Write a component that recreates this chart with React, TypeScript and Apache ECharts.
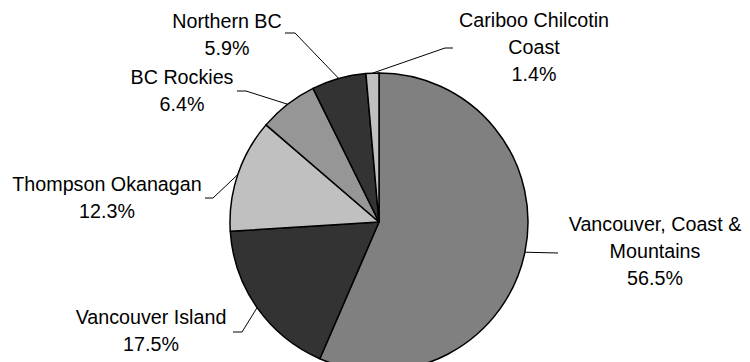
import React, { useEffect, useRef } from "react";
import * as echarts from "echarts";

const categories = [
  "Vancouver, Coast & Mountains",
  "Vancouver Island",
  "Thompson Okanagan",
  "BC Rockies",
  "Northern BC",
  "Cariboo Chilcotin Coast",
];
const labelLines = [
  ["Vancouver, Coast &", "Mountains"],
  ["Vancouver Island"],
  ["Thompson Okanagan"],
  ["BC Rockies"],
  ["Northern BC"],
  ["Cariboo Chilcotin", "Coast"],
];
const shares = [56.5, 17.5, 12.3, 6.4, 5.9, 1.4];
const sliceColors = ["#808080", "#333333", "#C0C0C0", "#969696", "#333333", "#C0C0C0"];

// label block centre (x,y), leader elbow (ex,ey) and leader end (tx,ty)
const labelLayoutHints = [
  { x: 655, y: 251, ex: 558, ey: 253, tx: 558, ty: 253 },
  { x: 151, y: 330, ex: 242, ey: 332, tx: 233, ty: 332 },
  { x: 107, y: 197, ex: 213, ey: 198, tx: 205, ty: 198 },
  { x: 182, y: 90, ex: 246, ey: 91, tx: 237, ty: 91 },
  { x: 227, y: 34, ex: 295, ey: 33, tx: 285, ty: 33 },
  { x: 534, y: 47, ex: 445, ey: 48, tx: 453, ty: 48 },
];

export default function App() {
  const ref = useRef<HTMLDivElement>(null);
  useEffect(() => {
    if (!ref.current) return;
    const chart = echarts.init(ref.current, null, { renderer: "svg" });
    chart.setOption({
      animation: false,
      backgroundColor: "#ffffff",
      series: [
        {
          type: "pie",
          center: [379, 222],
          radius: [0, 149],
          startAngle: 90,
          clockwise: true,
          avoidLabelOverlap: false,
          data: categories.map((name, i) => ({
            name,
            value: shares[i],
            itemStyle: { color: sliceColors[i] },
          })),
          itemStyle: { borderColor: "#000000", borderWidth: 1.5 },
          label: {
            show: true,
            position: "outside",
            formatter: (p: any) =>
              labelLines[p.dataIndex].join("\n") + "\n" + shares[p.dataIndex].toFixed(1) + "%",
            fontFamily: "'Liberation Sans', Arial, sans-serif",
            fontSize: 19.7,
            lineHeight: 27,
            color: "#000000",
            align: "center",
          },
          labelLine: {
            show: true,
            length: 10,
            length2: 10,
            lineStyle: { color: "#000000", width: 1 },
          },
          labelLayout: (params: any) => {
            const h = labelLayoutHints[params.dataIndex];
            const p0 = params.labelLinePoints ? params.labelLinePoints[0] : [h.ex, h.ey];
            return {
              x: h.x,
              y: h.y,
              align: "center",
              verticalAlign: "middle",
              labelLinePoints: [p0, [h.ex, h.ey], [h.tx, h.ty]],
            };
          },
        },
      ],
    });
    return () => chart.dispose();
  }, []);
  return (
    <div
      ref={ref}
      style={{ position: "fixed", left: 0, top: 0, width: 750, height: 362 }}
    />
  );
}
